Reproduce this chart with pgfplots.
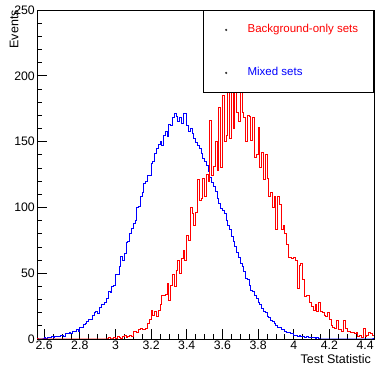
\documentclass[border=0pt]{standalone}
\usepackage{fontspec}
\setmainfont{Liberation Sans}
\usepackage{pgfplots}
\pgfplotsset{compat=1.18}
\usepackage{pgfplotstable}
\definecolor{hred}{RGB}{255,0,0}
\definecolor{hblue}{RGB}{0,0,255}
\pgfplotstableread{
x b r
2.56 0 0
2.57 0 0
2.58 0 0
2.59 0 0
2.60 1 0
2.61 0 0
2.62 1 0
2.63 1 0
2.64 2 0
2.65 1 0
2.66 2 0
2.67 2 0
2.68 2 0
2.69 3 0
2.70 3 0
2.71 2 0
2.72 4 0
2.73 4 0
2.74 5 0
2.75 4 0
2.76 6 0
2.77 6 0
2.78 7 0
2.79 6 0
2.80 9 0
2.81 9 0
2.82 11 0
2.83 12 0
2.84 13 0
2.85 15 0
2.86 15 0
2.87 18 0
2.88 20 0
2.89 21 0
2.90 19 0
2.91 24 0
2.92 26 0
2.93 26 0
2.94 28 0
2.95 31 0
2.96 36 1
2.97 35 0
2.98 40 0
2.99 41 1
3.00 49 0
3.01 49 2
3.02 55 1
3.03 63 0
3.04 60 2
3.05 65 3
3.06 73 1
3.07 74 2
3.08 80 3
3.09 84 2
3.10 88 6
3.11 90 6
3.12 100 5
3.13 101 7
3.14 108 8
3.15 111 7
3.16 118 7
3.17 120 8
3.18 124 12
3.19 124 15
3.20 133 22
3.21 135 18
3.22 141 21
3.23 145 17
3.24 148 22
3.25 150 26
3.26 147 33
3.27 155 33
3.28 158 34
3.29 154 42
3.30 163 29
3.31 162 41
3.32 168 49
3.33 171 40
3.34 169 52
3.35 165 60
3.36 168 50
3.37 164 61
3.38 171 67
3.39 171 60
3.40 162 79
3.41 158 75
3.42 160 100
3.43 156 95
3.44 152 86
3.45 149 96
3.46 147 121
3.47 145 105
3.48 141 107
3.49 137 122
3.50 135 108
3.51 132 125
3.52 127 120
3.53 123 166
3.54 119 124
3.55 116 131
3.56 112 150
3.57 107 128
3.58 103 176
3.59 99 130
3.60 98 185
3.61 95 150
3.62 90 155
3.63 86 188
3.64 83 152
3.65 78 192
3.66 74 160
3.67 70 190
3.68 66 172
3.69 62 165
3.70 57 191
3.71 55 172
3.72 51 168
3.73 46 150
3.74 45 170
3.75 41 169
3.76 37 151
3.77 36 168
3.78 33 138
3.79 31 140
3.80 28 161
3.81 26 130
3.82 23 142
3.83 21 121
3.84 20 140
3.85 17 122
3.86 16 108
3.87 14 111
3.88 13 100
3.89 12 108
3.90 10 83
3.91 9 108
3.92 9 102
3.93 7 83
3.94 7 86
3.95 6 80
3.96 5 72
3.97 5 62
3.98 4 62
3.99 4 61
4.00 3 62
4.01 3 60
4.02 2 38
4.03 3 56
4.04 2 57
4.05 2 45
4.06 1 32
4.07 2 33
4.08 1 33
4.09 1 28
4.10 1 25
4.11 1 22
4.12 0 26
4.13 1 21
4.14 0 28
4.15 0 21
4.16 0 20
4.17 0 18
4.18 0 17
4.19 0 20
4.20 0 15
4.21 0 10
4.22 0 9
4.23 0 8
4.24 0 14
4.25 0 7
4.26 0 7
4.27 0 6
4.28 0 14
4.29 0 8
4.30 0 6
4.31 0 6
4.32 0 5
4.33 0 5
4.34 0 4
4.35 0 5
4.36 0 2
4.37 0 3
4.38 0 1
4.39 0 8
4.40 0 2
4.41 0 3
4.42 0 5
4.43 0 4
4.44 0 3
4.45 0 3
}\histdata

\begin{document}
\begin{tikzpicture}[x=1pt,y=1pt]
\path[use as bounding box] (0,0) rectangle (378,366);
\begin{axis}[
  at={(37pt,27pt)}, anchor=south west,
  scale only axis, width=337pt, height=329pt,
  xmin=2.56, xmax=4.45, ymin=0, ymax=250,
  axis line style={black, line width=0.8pt},
  tick pos=left, tick align=inside,
  major tick length=10pt, minor tick length=5pt,
  tick style={black, line width=0.7pt},
  xtick={2.6,2.8,3,3.2,3.4,3.6,3.8,4,4.2,4.4},
  minor x tick num=3,
  ytick={0,50,100,150,200,250},
  minor y tick num=4,
  /pgf/number format/assume math mode=true,
  ticklabel style={font=\fontsize{12.3}{14}\selectfont},
  xticklabel style={inner sep=2pt},
  yticklabel style={inner sep=2pt},
  xlabel={Test Statistic},
  xlabel style={at={([xshift=-3pt,yshift=-24.5pt]rel axis cs:1,0)}, anchor=base east, inner sep=0pt, font=\fontsize{12.5}{14}\selectfont},
  ylabel={Events},
  ylabel style={at={([xshift=-18.3pt]rel axis cs:0,1)}, anchor=south east, inner sep=0pt, font=\fontsize{12.5}{14}\selectfont},
  legend style={at={(rel axis cs:1,1)}, anchor=north east, draw=black, fill=white, line width=0.8pt,
    inner xsep=0pt, inner ysep=13.5pt, row sep=31pt,
    font=\fontsize{11.5}{13}\selectfont,
    nodes={inner sep=0pt, text height=9pt, text depth=3pt}},
  legend cell align=left,
]
\addplot[const plot, draw=hblue, mark=none, line width=1pt, line join=miter, forget plot] table[x=x, y=b] {\histdata};
\addplot[const plot, draw=hred, mark=none, line width=1pt, line join=miter, forget plot] table[x=x, y=r] {\histdata};
\addlegendimage{legend image code/.code={\path (0pt,0pt) (43pt,0pt); \fill[black!80] (22pt,0pt) circle (0.6pt);}}
\addlegendentry{\makebox[126pt][l]{\textcolor{hred}{Background-only sets}}}
\addlegendimage{legend image code/.code={\path (0pt,0pt) (43pt,0pt); \fill[black!80] (22pt,0pt) circle (0.6pt);}}
\addlegendentry{\makebox[126pt][l]{\textcolor{hblue}{Mixed sets}}}
\end{axis}
\end{tikzpicture}
\end{document}
